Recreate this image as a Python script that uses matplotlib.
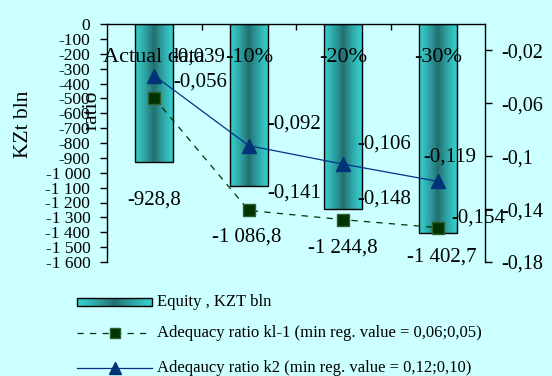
import numpy as np
import matplotlib
matplotlib.use("Agg")
import matplotlib.pyplot as plt
from matplotlib.patches import Rectangle
from matplotlib.ticker import FuncFormatter

# ---- data ----
categories = ["Actual data", "-10%", "-20%", "-30%"]
equity = [-928.8, -1086.8, -1244.8, -1402.7]
ratio_k11 = [-0.056, -0.141, -0.148, -0.154]
ratio_k2 = [-0.039, -0.092, -0.106, -0.119]

equity_label = "Equity , KZT bln"
k11_label = "Adequacy ratio kl-1 (min reg. value = 0,06;0,05)"
k2_label = "Adeqaucy ratio k2 (min reg. value = 0,12;0,10)"

left_ticks = list(range(0, -1601, -100))
right_ticks = [-0.02, -0.06, -0.10, -0.14, -0.18]

# ---- style ----
BG = "#CCFFFF"
TEAL_LIGHT = np.array([0x36, 0xCC, 0xCC]) / 255
TEAL_DARK = np.array([0x24, 0x6E, 0x6E]) / 255
K11_LINE = "#003300"
K11_FACE = "#003300"
K11_EDGE = "#2E5E2E"
K2_LINE = "#003388"
K2_FACE = "#003377"

plt.rcParams["font.family"] = ["Liberation Serif", "DejaVu Serif"]


def gradient_strip(n=64):
    t = np.linspace(0, 1, n)
    w = (1 - np.abs(2 * t - 1)) ** 1.3
    rgb = TEAL_LIGHT[None, :] * (1 - w[:, None]) + TEAL_DARK[None, :] * w[:, None]
    return rgb[None, :, :]


def fmt_thousands(v, decimals=1):
    s = f"{v:,.{decimals}f}"
    return s.replace(",", " ").replace(".", ",")


W, H = 552, 376
fig = plt.figure(figsize=(W / 100, H / 100), dpi=100, facecolor=BG)
L, R, T, B = 107, 485, 24, 262
ax = fig.add_axes([L / W, 1 - B / H, (R - L) / W, (B - T) / H])
ax.set_facecolor(BG)

x = np.arange(len(categories))

# bars with a vertical-band shading
bars = ax.bar(x, equity, width=0.4, facecolor="none", edgecolor="black",
              linewidth=1, zorder=3)
for b in bars:
    x0, x1 = b.get_x(), b.get_x() + b.get_width()
    y0, y1 = b.get_y(), b.get_y() + b.get_height()
    ax.imshow(gradient_strip(), extent=[x0, x1, min(y0, y1), max(y0, y1)],
              aspect="auto", interpolation="bilinear", zorder=2)

ax.set_xlim(-0.5, len(categories) - 0.5)
ax.set_ylim(-1600, 0)

for s in ("bottom", "right"):
    ax.spines[s].set_visible(False)
ax.spines["top"].set_linewidth(1)
ax.spines["left"].set_linewidth(1)
ax.spines["top"].set_zorder(6)

# category axis sits at zero (top of the plot), labels drawn over the bars
ax.xaxis.set_ticks_position("top")
ax.set_xticks(x)
ax.set_xticklabels(categories)
ax.set_xticks(np.arange(len(categories) - 1) + 0.5, minor=True)
ax.tick_params(axis="x", which="major", length=0, pad=-31, labelsize=16,
               labeltop=True, labelbottom=False, top=True, bottom=False)
ax.tick_params(axis="x", which="minor", direction="in", length=4.5, width=1,
               top=True, bottom=False)
ax.xaxis.set_zorder(6)

ax.set_yticks(left_ticks)
ax.yaxis.set_major_formatter(FuncFormatter(lambda v, p: fmt_thousands(v, 0)))
ax.tick_params(axis="y", which="major", direction="out", length=5, width=1,
               pad=7, labelsize=12.5)

ax.set_ylabel("KZt bln", fontsize=15.5, va="center")
ax.yaxis.set_label_coords((24 - L) / (R - L), (B - 124) / (B - T))

bar_offsets = [(0, -38), (-2, -51), (0, -39), (4, -24)]
for b, v, off in zip(bars, equity, bar_offsets):
    ax.annotate(fmt_thousands(v), (b.get_x() + b.get_width() / 2, v),
                xytext=off, textcoords="offset pixels",
                ha="center", va="center", fontsize=15, zorder=5)

# ratio axis
ax2 = ax.twinx()
ax2.set_ylim(-0.18, 0)
ax2.set_yticks(right_ticks)
ax2.yaxis.set_major_formatter(
    FuncFormatter(lambda v, p: f"{v:.2f}".rstrip("0").replace(".", ",")))
for s in ("top", "left", "bottom"):
    ax2.spines[s].set_visible(False)
ax2.spines["right"].set_linewidth(1)
ax2.tick_params(axis="y", which="major", direction="out", length=5, width=1,
                pad=7, labelsize=14.5)
ax2.set_ylabel("ratio", fontsize=15.5, va="center", rotation=90)
ax2.yaxis.set_label_coords((92 - L) / (R - L), (B - 110) / (B - T))

ax2.plot(x, ratio_k11, color=K11_LINE, lw=0.9, ls=(0, (5, 5)), marker="s",
         ms=8.5, mfc=K11_FACE, mec=K11_EDGE, mew=1, zorder=4)
ax2.plot(x, ratio_k2, color=K2_LINE, lw=0.9, marker="^", ms=10.5,
         mfc=K2_FACE, mec=K2_FACE, zorder=4)

k2_offsets = [(17, 19), (19, 22), (14, 20), (-14, 24)]
k11_offsets = [(19, 16), (19, 17), (14, 21), (14, 10)]
for vals, offs in ((ratio_k2, k2_offsets), (ratio_k11, k11_offsets)):
    for xi, v, off in zip(x, vals, offs):
        ax2.annotate(f"{v:.3f}".replace(".", ","), (xi, v), xytext=off,
                     textcoords="offset pixels", ha="left", va="center",
                     fontsize=15, zorder=5)

# legend block below the plot, laid out in pixel units
lax = fig.add_axes([0, 0, 1, 1])
lax.patch.set_visible(False)
lax.axis("off")
hx0, hx1, tx = 77, 152, 157
rows = [302, 333, 368]
lax.imshow(gradient_strip(), extent=[hx0, hx1, rows[0] + 4, rows[0] - 4],
           aspect="auto", interpolation="bilinear", zorder=2)
lax.add_patch(Rectangle((hx0, rows[0] - 4), hx1 - hx0, 8, facecolor="none",
                        edgecolor="black", linewidth=1, zorder=3))
lax.plot([hx0, hx1], [rows[1], rows[1]], color=K11_LINE, lw=0.9,
         ls=(0, (5, 5)))
lax.plot([(hx0 + hx1) / 2], [rows[1]], ls="none", marker="s", ms=7,
         mfc=K11_FACE, mec=K11_EDGE)
lax.plot([hx0, hx1], [rows[2], rows[2]], color=K2_LINE, lw=0.9)
lax.plot([(hx0 + hx1) / 2], [rows[2]], ls="none", marker="^", ms=9,
         mfc=K2_FACE, mec=K2_FACE)
for y, lab in zip(rows, [equity_label, k11_label, k2_label]):
    lax.text(tx, y, lab, ha="left", va="center", fontsize=12)
lax.set_xlim(0, W)
lax.set_ylim(H, 0)

fig.savefig("out.png", dpi=100, facecolor=BG)
